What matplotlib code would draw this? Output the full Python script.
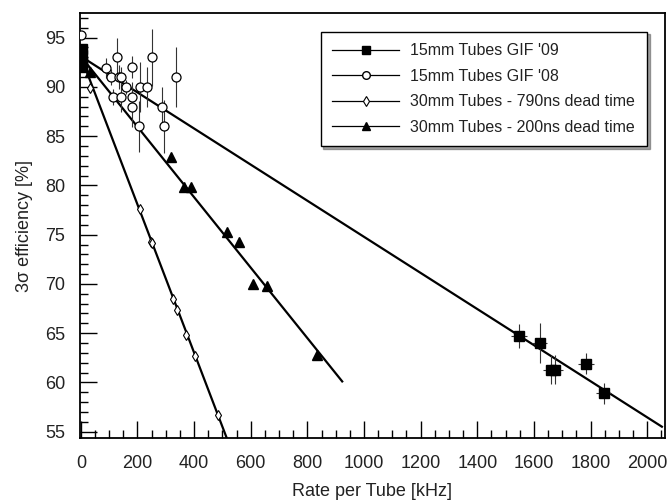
import matplotlib
matplotlib.use("Agg")
import matplotlib.pyplot as plt
import numpy as np
from matplotlib.ticker import MultipleLocator
from matplotlib.lines import Line2D

plt.rcParams['font.family'] = ['Liberation Sans', 'DejaVu Sans']
TXT = '#222222'

# ---- data ----
# 15mm Tubes GIF '09 (filled squares)
sq_x = [5, 5, 3, 3, 1548, 1620, 1660, 1675, 1784, 1846]
sq_y = [93.8, 93.2, 92.4, 92.0, 64.7, 64.0, 61.3, 61.3, 61.9, 58.9]
sq_xerr = [0, 0, 0, 0, 28, 25, 28, 28, 28, 28]
sq_yerr = [0, 0, 0, 0, 1.25, 2.0, 1.5, 1.5, 1.05, 1.05]

# 15mm Tubes GIF '08 (open circles)
ci_x = [0, 88, 106, 129, 135, 143, 112, 143, 159, 179, 182, 182, 206, 209, 235, 253, 287, 294, 335]
ci_y = [95.3, 91.9, 91.0, 93.0, 91.0, 91.0, 89.0, 89.0, 90.0, 92.0, 89.0, 88.0, 86.0, 90.0, 90.0, 93.0, 88.0, 86.0, 91.0]
ci_yerr = [0, 1.0, 0.8, 2.0, 1.2, 1.0, 0.8, 1.5, 0.7, 1.1, 1.5, 2.1, 2.6, 2.5, 2.0, 2.9, 2.0, 2.7, 3.0]

# 30mm Tubes - 790ns dead time (open diamonds)
di_x = [33, 209, 247, 253, 327, 341, 370, 402, 484]
di_y = [89.9, 77.6, 74.3, 74.2, 68.5, 67.4, 64.8, 62.7, 56.7]

# 30mm Tubes - 200ns dead time (filled triangles)
tr_x = [33, 317, 364, 390, 517, 560, 608, 658, 835]
tr_y = [91.5, 82.9, 79.8, 79.8, 75.3, 74.3, 70.0, 69.8, 62.8]

# linear fits: intercept, slope, x-range
fit_intercept = [93.1, 93.1, 93.1]
fit_slope = [-0.01832, -0.0752, -0.03575]
fit_xmax = [2052, 525, 923]

labels = ["15mm Tubes GIF '09", "15mm Tubes GIF '08",
          "30mm Tubes - 790ns dead time", "30mm Tubes - 200ns dead time"]

# ---- figure ----
fig = plt.figure(figsize=(6.72, 5.04), dpi=100)
ax = fig.add_axes([80/672, 1-438/504, (665-80)/672, (438-13)/504])

for b, m, xm in zip(fit_intercept, fit_slope, fit_xmax):
    xs = np.array([0, xm])
    ax.plot(xs, b + m*xs, color='black', lw=1.6, zorder=2)

eb_kw = dict(ecolor='#333333', elinewidth=0.8, capsize=0, zorder=3)

ax.errorbar(sq_x, sq_y, xerr=sq_xerr, yerr=sq_yerr, fmt='s', color='black',
            mfc='black', mec='black', ms=6.5, **eb_kw)
ax.errorbar(ci_x, ci_y, yerr=ci_yerr, fmt='o', color='black',
            mfc='white', mec='black', mew=0.9, ms=6.5, **eb_kw)
ax.plot(di_x, di_y, 'd', mfc='white', mec='black', mew=0.8, ms=5.5, zorder=4)
ax.plot(tr_x, tr_y, '^', mfc='black', mec='black', ms=7, zorder=4)

ax.set_xlim(-3, 2063)
ax.set_ylim(54.36, 97.5)
ax.xaxis.set_major_locator(MultipleLocator(200))
ax.xaxis.set_minor_locator(MultipleLocator(50))
ax.yaxis.set_major_locator(MultipleLocator(5))
ax.yaxis.set_minor_locator(MultipleLocator(1))
ax.tick_params(which='both', direction='in', top=False, right=False,
               labelsize=13, color='black', labelcolor=TXT, width=1.0)
ax.tick_params(which='major', length=12)
ax.tick_params(which='minor', length=6)
ax.tick_params(axis='x', which='major', pad=12.5)
ax.tick_params(axis='y', which='major', pad=10.5)
for s in ax.spines.values():
    s.set_linewidth(1.3)

ax.set_xlabel('Rate per Tube [kHz]', fontsize=13, labelpad=7.5, color=TXT)
ax.set_ylabel('3σ efficiency [%]', fontsize=13, labelpad=8.5, color=TXT)

lh = [Line2D([], [], color='black', lw=0.9, marker='s', ms=5.5, mfc='black'),
      Line2D([], [], color='black', lw=0.9, marker='o', ms=5.5, mfc='white'),
      Line2D([], [], color='black', lw=0.9, marker='d', ms=5, mfc='white', mew=0.8),
      Line2D([], [], color='black', lw=0.9, marker='^', ms=6, mfc='black')]
leg = ax.legend(lh, labels, loc='upper left',
                bbox_to_anchor=((320.7-80)/585, 1-(31.7-13)/425),
                borderaxespad=0, fontsize=11.5, frameon=True, fancybox=False, shadow=True,
                edgecolor='black', handlelength=4.2, handletextpad=0.7,
                borderpad=0.72, labelspacing=0.66)
leg.get_frame().set_linewidth(1.0)
for t in leg.get_texts():
    t.set_color(TXT)

fig.savefig('out.png', dpi=100)
